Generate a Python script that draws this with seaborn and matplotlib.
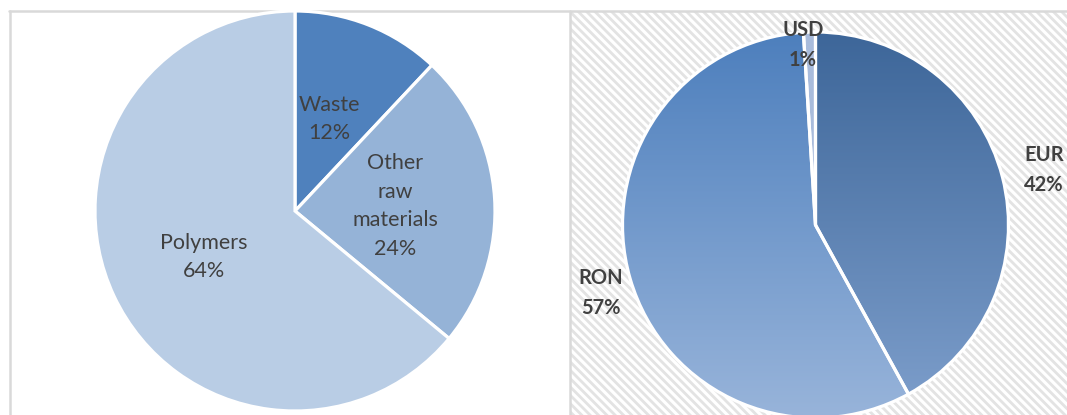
import numpy as np
import matplotlib
matplotlib.use("Agg")
import matplotlib.pyplot as plt
import seaborn as sns
from matplotlib.patches import Rectangle
from matplotlib.colors import LinearSegmentedColormap

# ---- data ----
left_labels = ["Waste", "Other\nraw\nmaterials", "Polymers"]
left_values = [12, 24, 64]
right_labels = ["EUR", "RON", "USD"]
right_values = [42, 57, 1]

sns.set_theme(style="white")
plt.rcParams['font.family'] = ['Lato', 'DejaVu Sans']
plt.rcParams['hatch.linewidth'] = 2.0
plt.rcParams['hatch.color'] = '#e3e3e3'

W, H = 1067, 415
fig = plt.figure(figsize=(W / 100, H / 100), dpi=100)
fig.patch.set_facecolor('white')

# background / frame axes in pixel coordinates
bg = fig.add_axes([0, 0, 1, 1])
bg.set_xlim(0, W)
bg.set_ylim(H, 0)
bg.axis('off')
bg.add_patch(Rectangle((570, 11), W - 570 + 20, H, facecolor='white',
                       edgecolor='#e3e3e3', hatch='\\\\\\\\', lw=0, clip_on=True))
bg.plot([9, W], [11, 11], color='#d9d9d9', lw=1.8)
bg.plot([9.5, 9.5], [11, H], color='#d9d9d9', lw=1.8)
bg.plot([569.5, 569.5], [11, H], color='#d9d9d9', lw=1.8)

def pie_axes(cx, cy, r):
    return fig.add_axes([(cx - r) / W, (H - cy - r) / H, 2 * r / W, 2 * r / H])

text_color = '#404040'

# ---- left pie ----
axl = pie_axes(295, 211, 200)
left_colors = ['#4f81bd', '#95b3d7', '#b9cde5']
axl.pie(left_values, colors=left_colors, startangle=90, counterclock=False,
        radius=1, wedgeprops=dict(edgecolor='white', linewidth=2.3))
axl.set_xlim(-1, 1); axl.set_ylim(-1, 1); axl.set_aspect('equal'); axl.axis('off')

# ---- right pie with gradients ----
axr = pie_axes(815.5, 225, 193)
wedges, _ = axr.pie(right_values, colors=['none'] * 3, startangle=90, counterclock=False,
                    radius=1, wedgeprops=dict(edgecolor='white', linewidth=2.3))
axr.set_xlim(-1, 1); axr.set_ylim(-1, 1); axr.set_aspect('equal'); axr.axis('off')

grads = [('#3d6699', '#7e9fcc'), ('#4d7fbd', '#98b4da'), ('#a9bcdc', '#a9bcdc')]
grad = np.linspace(0, 1, 256).reshape(-1, 1)
for w, (c1, c2) in zip(wedges, grads):
    cmap = LinearSegmentedColormap.from_list('g', sns.blend_palette([c1, c2], 8))
    im = axr.imshow(grad, cmap=cmap, extent=(-1, 1, -1, 1), origin='upper',
                    aspect='auto', zorder=0.5)
    im.set_clip_path(w)
    w.set_zorder(1)

bg.set_zorder(0)
axl.set_zorder(1)
axr.set_zorder(1)

# ---- text layer ----
txt = fig.add_axes([0, 0, 1, 1])
txt.set_xlim(0, W); txt.set_ylim(H, 0); txt.axis('off'); txt.patch.set_alpha(0)
txt.set_zorder(3)

left_pos = [(329, 119), (395, 206), (204, 257)]
for lab, val, (x, y) in zip(left_labels, left_values, left_pos):
    txt.text(x, y, f"{lab}\n{val}%", ha='center', va='center', fontsize=15.5,
             color=text_color, linespacing=1.55)

right_pos = [(1044, 170), (601, 293), (803, 45)]
for lab, val, (x, y) in zip(right_labels, right_values, right_pos):
    txt.text(x, y, f"{lab}\n{val}%", ha='center', va='center', fontsize=14.5,
             color=text_color, fontweight='bold', linespacing=1.6)

fig.savefig('out.png', dpi=100)
